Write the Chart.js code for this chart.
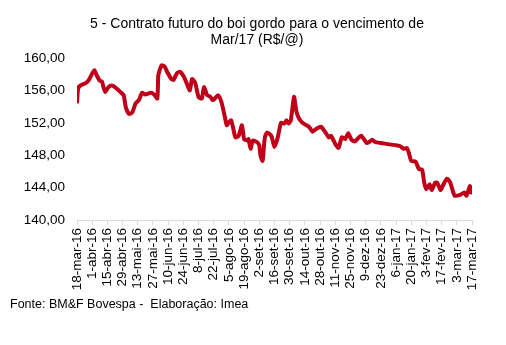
<!DOCTYPE html>
<html>
<head>
<meta charset="utf-8">
<script src="https://cdn.jsdelivr.net/npm/chart.js@4.4.1/dist/chart.umd.min.js"></script>
<style>
  body { margin: 0; background: #fff; }
  #wrap { position: relative; width: 506px; height: 345px; }
  #title {
    position: absolute; left: 0; top: 15px; width: 514px;
    text-align: center; line-height: 18px;
    font: 14px "Liberation Sans", Arial, sans-serif; color: #000;
  }
  #footer {
    position: absolute; left: 10px; top: 297px;
    font: 12.5px "Liberation Sans", Arial, sans-serif;
    color: #000; white-space: pre;
  }
</style>
</head>
<body>
<div id="wrap">
  <canvas id="chart" width="506" height="345"></canvas>
  <div id="title">5 - Contrato futuro do boi gordo para o vencimento de<br>Mar/17 (R$/@)</div>
  <div id="footer">Fonte: BM&amp;F Bovespa -  Elaboração: Imea</div>
</div>
<script>
// Boi gordo futures, Mar/17 contract (R$/@)
const tickLabels = [
  "18-mar-16", "1-abr-16", "15-abr-16", "29-abr-16", "13-mai-16", "27-mai-16",
  "10-jun-16", "24-jun-16", "8-jul-16", "22-jul-16", "5-ago-16", "19-ago-16",
  "2-set-16", "16-set-16", "30-set-16", "14-out-16", "28-out-16", "11-nov-16",
  "25-nov-16", "9-dez-16", "23-dez-16", "6-jan-17", "20-jan-17", "3-fev-17",
  "17-fev-17", "3-mar-17", "17-mar-17"
];

// days counted from 18-mar-16
const days = [
  0, 1, 3, 8, 11, 14, 16, 18, 21, 23, 24, 26, 29, 32, 35, 40, 43, 45, 48, 51,
  54, 57, 60, 63, 68, 71, 74, 75, 78, 81, 83, 87, 89, 92, 95, 98, 101, 104, 106, 109,
  112, 115, 117, 120, 123, 125, 127, 130, 133, 136, 138, 140, 142, 144, 146, 149, 152, 154, 157, 158,
  160, 162, 166, 168, 169, 171, 173, 175, 179, 182, 185, 188, 191, 193, 195, 197, 200, 202, 204, 207,
  210, 213, 215, 217, 221, 225, 229, 232, 234, 238, 241, 244, 247, 250, 253, 256, 259, 262, 267, 270,
  272, 275, 280, 295, 298, 301, 304, 306, 308, 312, 315, 318, 320, 322, 325, 327, 330, 332, 335, 337,
  341, 344, 348, 353, 357, 359, 362, 363, 364
];

const prices = [
  154.4, 156.2, 156.6, 156.9, 157.3, 158.1, 158.5, 157.9, 157.2, 157.1, 156.6, 155.8, 156.4, 156.6, 156.4, 155.8, 155.4, 153.9, 153.1, 153.3,
  154.4, 154.8, 155.7, 155.5, 155.7, 155.5, 155.0, 157.9, 159.1, 158.9, 158.3, 157.4, 157.3, 158.1, 158.3, 157.8, 156.9, 156.0, 157.4, 156.9,
  155.2, 155.0, 156.4, 155.4, 155.2, 154.8, 155.0, 155.4, 154.6, 152.9, 151.7, 152.1, 152.3, 151.3, 150.2, 150.4, 151.7, 150.0, 149.8, 150.0,
  148.8, 149.8, 149.6, 149.2, 148.0, 147.3, 150.1, 150.8, 150.4, 149.0, 150.2, 152.0, 151.9, 152.3, 151.9, 152.3, 155.2, 153.5, 152.7, 152.1,
  151.8, 151.6, 151.3, 150.9, 151.3, 151.5, 150.8, 150.2, 150.4, 149.4, 148.9, 150.2, 150.0, 150.7, 149.9, 149.7, 150.1, 150.4, 149.5, 149.7,
  149.9, 149.6, 149.5, 149.2, 149.1, 148.8, 148.9, 148.2, 147.3, 147.2, 146.3, 146.2, 144.6, 143.8, 144.4, 143.7, 144.6, 144.6, 143.7, 144.2,
  145.1, 144.6, 143.0, 143.1, 143.4, 143.0, 144.2, 143.4, 143.4
];

const FONT = '"Liberation Sans", Arial, sans-serif';

new Chart(document.getElementById("chart"), {
  type: "line",
  data: {
    datasets: [
      {
        data: days.map((d, i) => ({ x: d, y: prices[i] })),
        borderColor: "#c00018",
        borderWidth: 4,
        pointRadius: 0,
        tension: 0.2,
        fill: false,
      },
    ],
  },
  options: {
    responsive: false,
    animation: false,
    layout: { padding: { left: 0, right: 34, top: 58, bottom: 47 } },
    plugins: {
      legend: { display: false },
      tooltip: { enabled: false },
    },
    scales: {
      x: {
        type: "linear",
        min: 0,
        max: 364,
        afterFit: (scale) => { scale.height = 78; },
        grid: { display: true, drawOnChartArea: false, drawTicks: true, tickLength: 5, color: "#d9d9d9" },
        border: { display: true, color: "#d9d9d9", width: 1 },
        ticks: {
          stepSize: 14,
          maxTicksLimit: 40,
          autoSkip: false,
          minRotation: 90,
          maxRotation: 90,
          padding: 3,
          color: "#000",
          font: { family: FONT, size: 13.5 },
          callback: (value) => tickLabels[Math.round(value / 14)],
        },
      },
      y: {
        min: 140,
        max: 160,
        afterFit: (scale) => { scale.width = 77; },
        grid: { display: false, drawTicks: false },
        border: { display: false },
        ticks: {
          stepSize: 4,
          padding: 12,
          color: "#000",
          font: { family: FONT, size: 13.5 },
          callback: (value) => value.toFixed(2).replace(".", ","),
        },
      },
    },
  },
});
</script>
</body>
</html>
